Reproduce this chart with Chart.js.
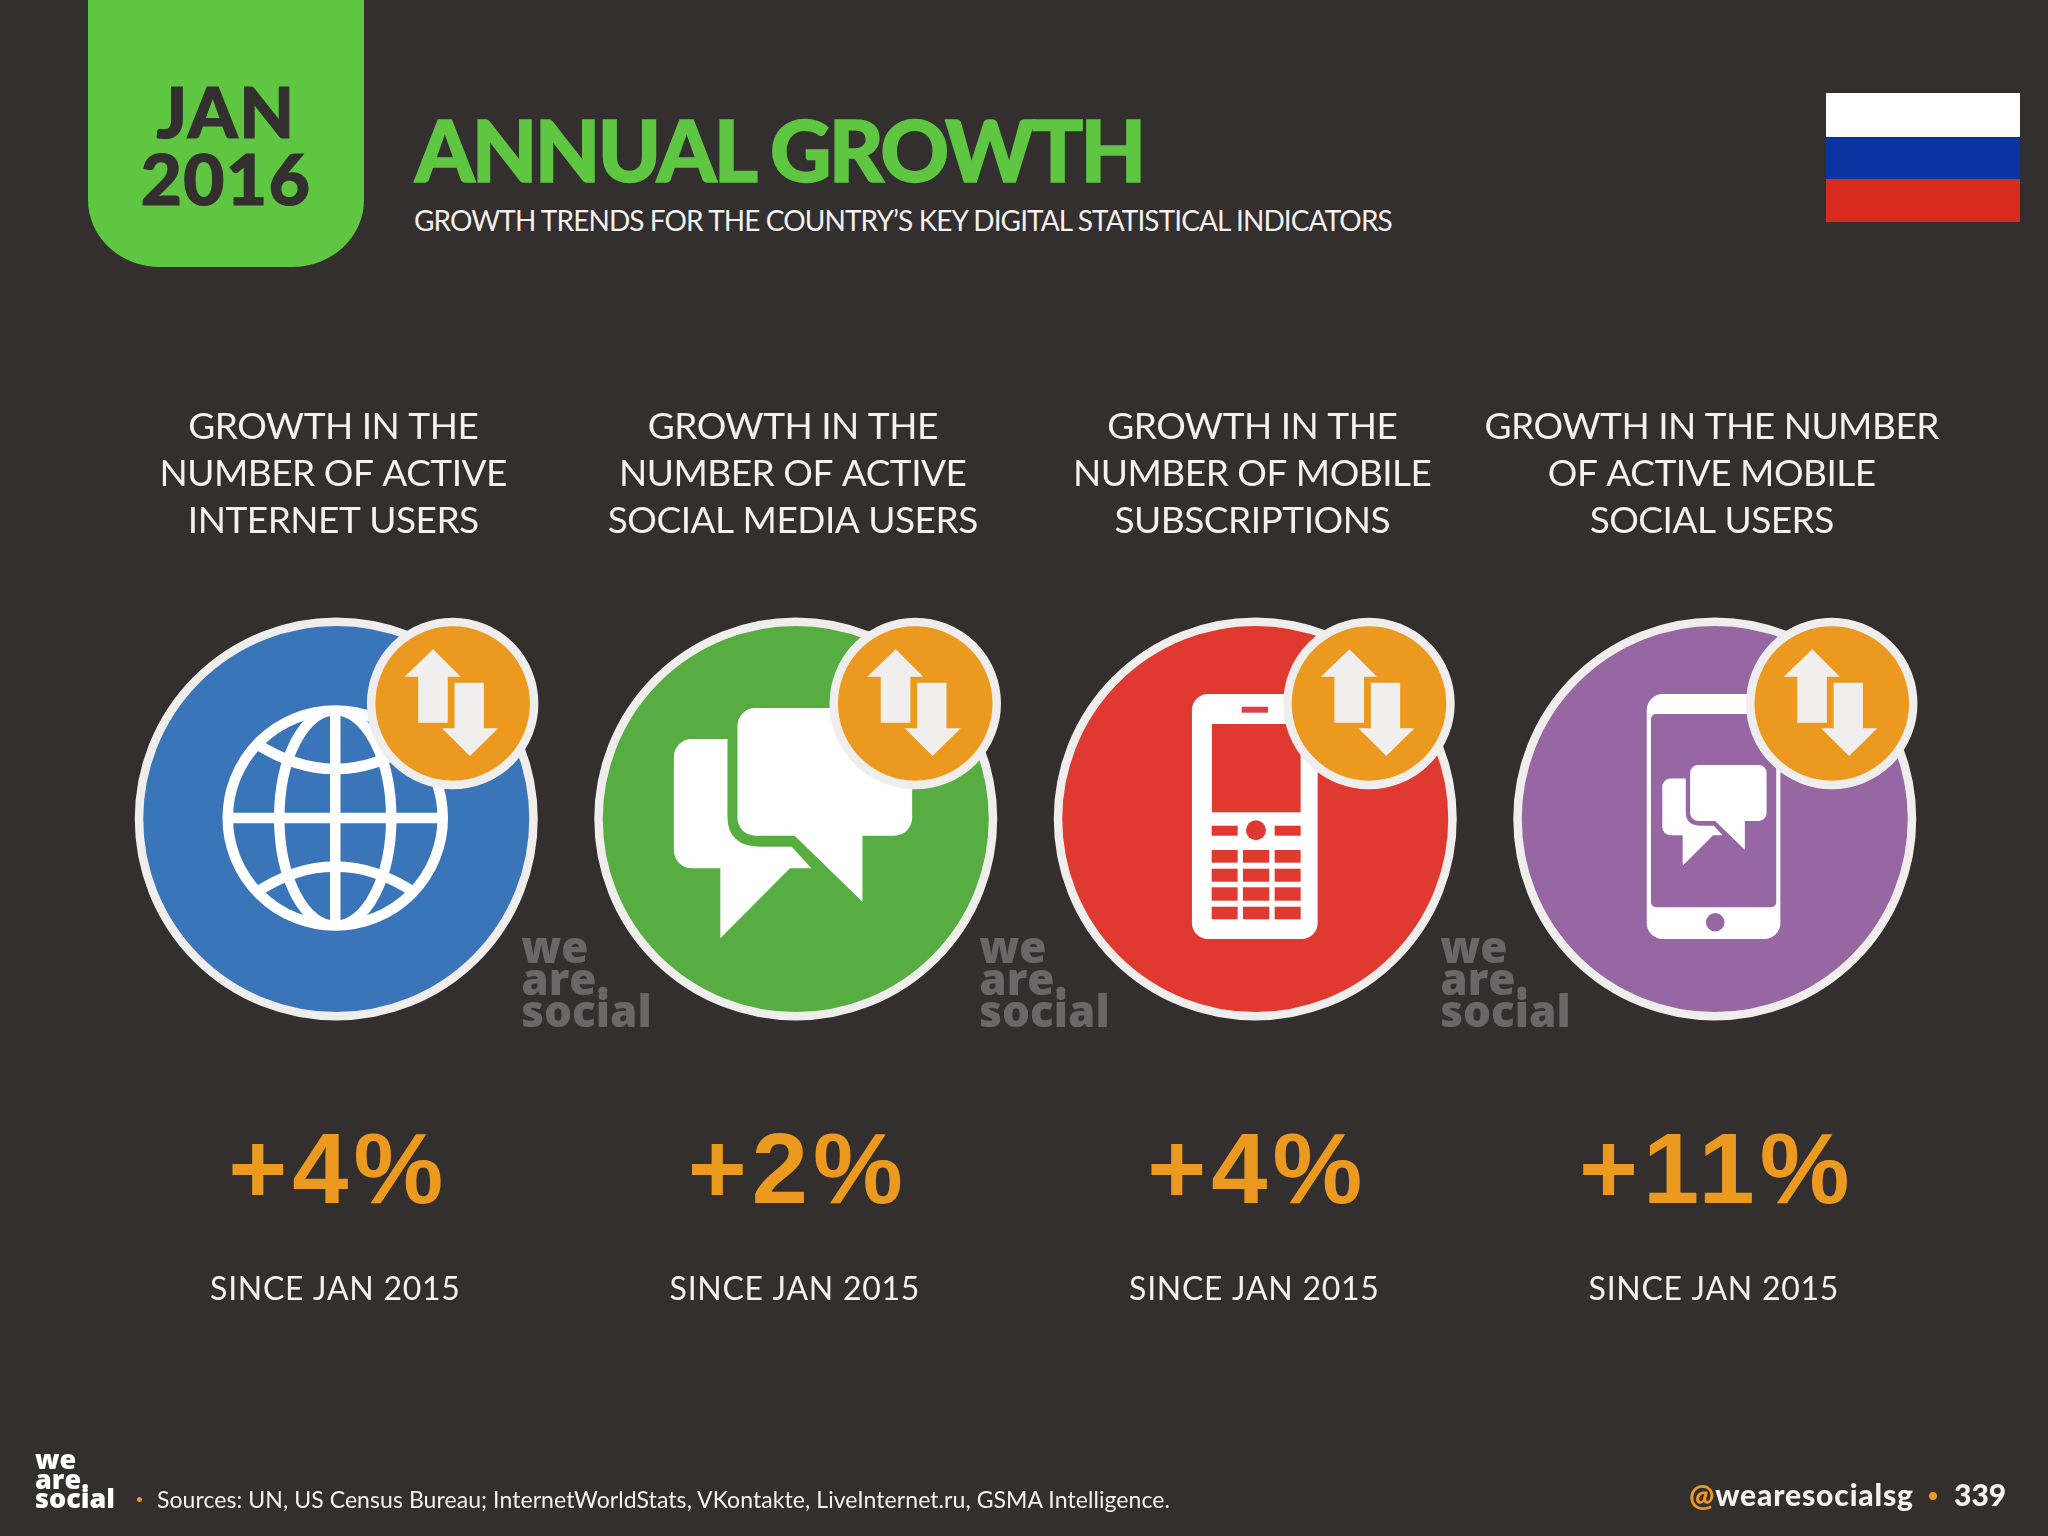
<!DOCTYPE html>
<html><head><meta charset="utf-8">
<script src="https://cdn.jsdelivr.net/npm/chart.js@4"></script>
<style>
html,body{margin:0;padding:0;background:#332f2e;}
#wrap{position:relative;width:2048px;height:1536px;overflow:hidden;background:#332f2e;}
#c{position:absolute;left:0;top:0;}
.t{position:absolute;white-space:nowrap;line-height:1;}
</style></head><body>
<div id="wrap">
<div class="t" style="left:88px;top:0;width:276px;height:267px;background:#5fc642;border-radius:0 0 72px 72px / 0 0 67px 67px;"></div>
<div class="t" style="left:88px;top:77px;width:276px;text-align:center;font:900 71px/67px Lato;letter-spacing:1.5px;color:#332f2e;-webkit-text-stroke:1.2px #332f2e;">JAN<br>2016</div>
<div class="t" style="left:415px;top:107px;font:900 85px/1 Lato;letter-spacing:-2.8px;color:#5fc642;-webkit-text-stroke:1.5px #5fc642;">ANNUAL GROWTH</div>
<div class="t" style="left:414px;top:206px;font:400 28px/1 Lato;letter-spacing:-0.9px;color:#f4f2f1;">GROWTH TRENDS FOR THE COUNTRY’S KEY DIGITAL STATISTICAL INDICATORS</div>
<div class="t" style="left:1826px;top:93px;width:194px;height:44px;background:#fff;"></div>
<div class="t" style="left:1826px;top:136.5px;width:194px;height:43px;background:#0a35a0;"></div>
<div class="t" style="left:1826px;top:179px;width:194px;height:43px;background:#d72b1e;"></div>
<canvas id="c" width="2048" height="1536" style="width:2048px;height:1536px"></canvas>
<div class="t" style="left:35px;top:1449px;font:800 27px/19.5px 'Open Sans';color:#fff;">we<br>are.<br>social</div>
<div class="t" style="left:137px;top:1497px;width:5px;height:5px;border-radius:50%;background:#eb9a1f;"></div>
<div class="t" style="left:157px;top:1488px;font:400 23px/1 Lato;letter-spacing:.07px;color:#f4f2f1;">Sources: UN, US Census Bureau; InternetWorldStats, VKontakte, LiveInternet.ru, GSMA Intelligence.</div>
<div class="t" style="left:1689px;top:1479px;font:900 30px/1 Lato;letter-spacing:.85px;color:#f4f2f1;"><span style="color:#eb9a1f">@</span>wearesocialsg</div>
<div class="t" style="left:1929px;top:1492px;width:8px;height:8px;border-radius:50%;background:#eb9a1f;"></div>
<div class="t" style="left:1954px;top:1479px;font:900 30px/1 Lato;color:#f4f2f1;">339</div>
</div>
<script>
const indicators = [
  ['GROWTH IN THE','NUMBER OF ACTIVE','INTERNET USERS'],
  ['GROWTH IN THE','NUMBER OF ACTIVE','SOCIAL MEDIA USERS'],
  ['GROWTH IN THE','NUMBER OF MOBILE','SUBSCRIPTIONS'],
  ['GROWTH IN THE NUMBER','OF ACTIVE MOBILE','SOCIAL USERS']
];
const growthPercent = [4, 2, 4, 11];
const sinceLabel = 'SINCE JAN 2015';
const circleColors = ['#3b75b9','#57ad42','#e03a30','#9767a4'];
const iconKinds = ['globe','chat','phone','smart'];
const badgeDx = [116.4, 119.5, 113.7, 117];
const ORANGE='#eb9a1f', RIM='#f0eeed', BG='#332f2e';

function rr(ctx,x0,y0,x1,y1,r){ctx.beginPath();ctx.roundRect(x0,y0,x1-x0,y1-y0,r);}
function globe(ctx,x,y){
  ctx.save();ctx.translate(x-1,y-1);ctx.strokeStyle='#fff';ctx.lineWidth=10.5;
  ctx.beginPath();ctx.arc(0,0,107.5,0,Math.PI*2);ctx.stroke();
  ctx.save();ctx.beginPath();ctx.arc(0,0,107.5,0,Math.PI*2);ctx.clip();
  ctx.beginPath();ctx.ellipse(0,0,56,108,0,0,Math.PI*2);ctx.stroke();
  ctx.beginPath();ctx.moveTo(0,-108);ctx.lineTo(0,108);ctx.moveTo(-108,0);ctx.lineTo(108,0);ctx.stroke();
  ctx.beginPath();ctx.moveTo(-80,-75);ctx.quadraticCurveTo(0,-23,80,-75);ctx.stroke();
  ctx.beginPath();ctx.moveTo(-80,75);ctx.quadraticCurveTo(0,22,80,75);ctx.stroke();
  ctx.restore();ctx.restore();
}
function chat(ctx,x,y,s){
  ctx.save();ctx.translate(x,y);ctx.scale(s,s);ctx.fillStyle='#fff';
  ctx.beginPath();
  ctx.moveTo(-68.3,-80);ctx.lineTo(-104,-80);ctx.arcTo(-121.9,-80,-121.9,-62,18);
  ctx.lineTo(-121.9,31);ctx.arcTo(-121.9,49.3,-104,49.3,18);
  ctx.lineTo(-75.4,49.3);ctx.lineTo(-75.4,119.3);ctx.lineTo(-5.8,49.3);ctx.lineTo(15.6,49.3);
  ctx.lineTo(-4,27.7);ctx.lineTo(-34.4,27.7);ctx.quadraticCurveTo(-68.3,27.7,-68.3,-2.3);ctx.closePath();ctx.fill();
  ctx.beginPath();
  ctx.moveTo(-40,-111);ctx.lineTo(98,-111);ctx.arcTo(116.4,-111,116.4,-93,18);
  ctx.lineTo(116.4,-1);ctx.arcTo(116.4,16.7,98,16.7,18);
  ctx.lineTo(66.7,16.7);ctx.lineTo(66.7,82.7);ctx.lineTo(-1.1,16.7);ctx.lineTo(-40,16.7);
  ctx.arcTo(-58.3,16.7,-58.3,-1,18);ctx.lineTo(-58.3,-93);ctx.arcTo(-58.3,-111,-40,-111,18);ctx.closePath();ctx.fill();
  ctx.restore();
}
function phone(ctx,x,y,col){
  ctx.save();ctx.translate(x,y);ctx.fillStyle='#fff';rr(ctx,-63.3,-125,62.4,120,16);ctx.fill();
  ctx.fillStyle='#d9404a';ctx.fillRect(-13.6,-112.3,26.3,6);
  ctx.fillStyle=col;ctx.fillRect(-43.3,-95,88.7,88.3);
  const cols=[[-43.6,-17.6],[-12.3,14],[19.4,45.4]], rows=[[31,43.7],[49.7,62.7],[68.3,81.7],[87.7,100.3]];
  rows.forEach(r=>cols.forEach(c=>ctx.fillRect(c[0],r[0],c[1]-c[0],r[1]-r[0])));
  ctx.fillRect(-43.6,6.7,26,10);ctx.fillRect(19.4,6.7,26,10);
  ctx.beginPath();ctx.arc(0.7,11.3,10,0,Math.PI*2);ctx.fill();
  ctx.restore();
}
function smart(ctx,x,y,col){
  ctx.save();ctx.translate(x,y);ctx.fillStyle='#fff';rr(ctx,-68,-125,65.6,120,16);ctx.fill();
  ctx.fillStyle=col;rr(ctx,-63.8,-105,61.5,88.3,5);ctx.fill();
  ctx.beginPath();ctx.arc(0.5,103.3,9.3,0,Math.PI*2);ctx.fill();
  ctx.restore();
  chat(ctx,x+0.9,y-5.4,0.4375);
}
function badge(ctx,x,y){
  ctx.save();ctx.translate(x,y);
  ctx.beginPath();ctx.arc(0,0,81.5,0,Math.PI*2);ctx.fillStyle=ORANGE;ctx.fill();
  ctx.lineWidth=8.5;ctx.strokeStyle=RIM;ctx.stroke();
  ctx.fillStyle='#f1efee';
  ctx.beginPath();[[-19.5,-54.2],[8,-26.8],[-4.9,-26.8],[-4.9,19.2],[-34.5,19.2],[-34.5,-26.8],[-48,-26.8]].forEach((p,i)=>i?ctx.lineTo(p[0],p[1]):ctx.moveTo(p[0],p[1]));ctx.closePath();ctx.fill();
  ctx.beginPath();[[1.9,-20.8],[31.2,-20.8],[31.2,24.8],[45.5,24.8],[17.3,52.5],[-10.6,24.8],[1.9,24.8]].forEach((p,i)=>i?ctx.lineTo(p[0],p[1]):ctx.moveTo(p[0],p[1]));ctx.closePath();ctx.fill();
  ctx.restore();
}
const slidePlugin = {
  id:'slide',
  beforeDraw(chart){chart.ctx.letterSpacing='-0.5px';},
  afterDatasetsDraw(chart){
    const ctx=chart.ctx, pts=chart.getDatasetMeta(0).data;
    pts.forEach((p,i)=>{
      const x=p.x,y=p.y,k=iconKinds[i],col=circleColors[i];
      if(k==='globe')globe(ctx,x,y);
      if(k==='chat')chat(ctx,x,y,1);
      if(k==='phone')phone(ctx,x,y,col);
      if(k==='smart')smart(ctx,x,y,col);
      badge(ctx,x+badgeDx[i],y-115.5);
      ctx.save();ctx.textAlign='center';ctx.textBaseline='alphabetic';
      ctx.fillStyle=ORANGE;ctx.font='700 101px "Liberation Sans"';ctx.letterSpacing='5px';
      ctx.fillText('+'+chart.data.datasets[0].data[i]+'%',x+2,y+384);
      ctx.fillStyle='#f4f2f1';ctx.font='400 32px Lato';ctx.letterSpacing='0.7px';
      ctx.fillText(sinceLabel,x-1,y+481);
      if(i<3){
        ctx.textAlign='left';ctx.fillStyle='#6b6768';ctx.font='800 44px "Open Sans"';ctx.letterSpacing='0px';
        const wx=x+[185,183.5,185][i];
        ctx.fillText('we',wx,y+144);ctx.fillText('are.',wx,y+176);ctx.fillText('social',wx,y+208);
      }
      ctx.restore();
    });
  }
};
const H=1536, AXIS=546, AREA=H-AXIS;
const rowFrac=(819-AXIS)/AREA, RANGE=1e6;
new Chart(document.getElementById('c'),{
  type:'line',
  data:{labels:indicators,datasets:[{
    label:'Annual growth (%)',data:growthPercent,showLine:false,
    pointRadius:197.25,pointBorderWidth:8.5,pointBorderColor:RIM,
    pointBackgroundColor:circleColors,clip:false
  }]},
  options:{
    responsive:false,animation:false,devicePixelRatio:1,
    layout:{autoPadding:false,padding:{left:106.5,right:103.5,top:0,bottom:0}},
    plugins:{legend:{display:false},tooltip:{enabled:false}},
    scales:{
      x:{type:'category',position:'top',offset:true,border:{display:false},grid:{display:false,drawTicks:false},
        afterFit(s){s.height=AXIS;},
        ticks:{color:'#f4f2f1',font:{family:'Lato',size:37,weight:'400',lineHeight:1.26},padding:2,labelOffset:-3,maxRotation:0,autoSkip:false}},
      y:{display:false,min:-(1-rowFrac)*RANGE,max:rowFrac*RANGE}
    }
  },
  plugins:[slidePlugin]
});
</script>
</body></html>
